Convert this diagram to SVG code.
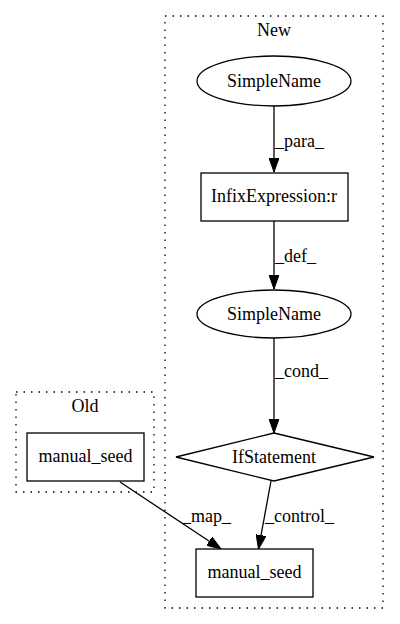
<svg xmlns="http://www.w3.org/2000/svg" width="400" height="624" viewBox="0 0 400 624">
<style>
text{font-family:"Liberation Serif","Times New Roman",serif;font-size:18px;fill:#000}
.c{fill:none;stroke:#000;stroke-width:1.3;stroke-dasharray:1.5,6}
.n{fill:#fff;stroke:#000;stroke-width:1.3}
.e{fill:none;stroke:#000;stroke-width:1.3}
.m{text-anchor:middle}
</style>
<defs>
<marker id="ah" markerWidth="14" markerHeight="10" refX="14" refY="5" orient="auto" markerUnits="userSpaceOnUse">
<path d="M0,0 L14,5 L0,10 Z" fill="#000" stroke="#000" stroke-width="1"/>
</marker>
</defs>
<rect width="400" height="624" fill="#fff"/>
<g id="cluster_new">
<rect class="c" x="165" y="16" width="218" height="592"/>
<text class="m" x="274" y="36">New</text>
</g>
<g id="cluster_old">
<rect class="c" x="16" y="392" width="138" height="100"/>
<text class="m" x="85" y="412">Old</text>
</g>
<g id="edges">
<path class="e" d="M274,106 L274,172" marker-end="url(#ah)"/>
<text x="275" y="147">_para_</text>
<path class="e" d="M274,221 L274,289" marker-end="url(#ah)"/>
<text x="275" y="262">_def_</text>
<path class="e" d="M274,338 L274,433" marker-end="url(#ah)"/>
<text x="275" y="377">_cond_</text>
<path class="e" d="M271,481 L258.5,549" marker-end="url(#ah)"/>
<text x="265" y="522">_control_</text>
<path class="e" d="M120,482 L221,549" marker-end="url(#ah)"/>
<text x="182" y="522">_map_</text>
</g>
<g id="n1">
<ellipse class="n" cx="274" cy="81" rx="77" ry="25"/>
<text class="m" x="274" y="87">SimpleName</text>
</g>
<g id="n2">
<rect class="n" x="201" y="173" width="147" height="48"/>
<text class="m" x="274" y="202">InfixExpression:r</text>
</g>
<g id="n3">
<ellipse class="n" cx="274" cy="314" rx="77" ry="24"/>
<text class="m" x="274" y="320">SimpleName</text>
</g>
<g id="n4">
<polygon class="n" points="274,433 374,457 274,481 176,457"/>
<text class="m" x="274" y="463">IfStatement</text>
</g>
<g id="n5">
<rect class="n" x="196" y="549" width="117" height="48"/>
<text class="m" x="254.5" y="578">manual_seed</text>
</g>
<g id="n6">
<rect class="n" x="27" y="433" width="117" height="48"/>
<text class="m" x="85.5" y="462">manual_seed</text>
</g>
</svg>
